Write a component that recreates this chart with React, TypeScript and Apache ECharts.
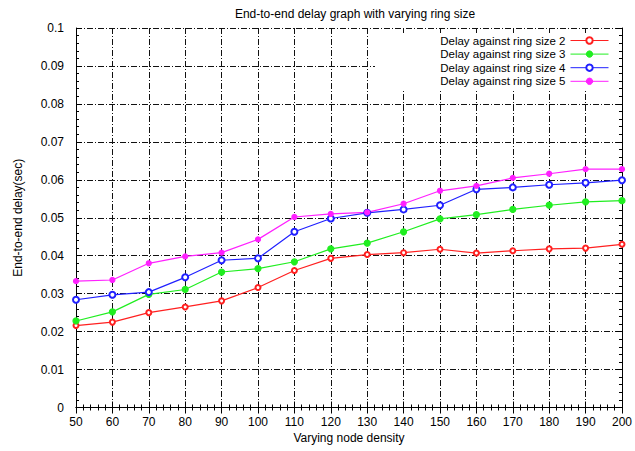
import React, { useEffect, useRef } from "react";
import * as echarts from "echarts";

const nodeDensity = [50, 60, 70, 80, 90, 100, 110, 120, 130, 140, 150, 160, 170, 180, 190, 200];
const ringSize2 = [0.0216, 0.0225, 0.025, 0.0265, 0.0281, 0.0316, 0.0361, 0.0393, 0.0403, 0.0408, 0.0417, 0.0407, 0.0413, 0.0418, 0.042, 0.043];
const ringSize3 = [0.0228, 0.0252, 0.0298, 0.0311, 0.0357, 0.0366, 0.0384, 0.0418, 0.0433, 0.0463, 0.0497, 0.0508, 0.0522, 0.0533, 0.0542, 0.0545];
const ringSize4 = [0.0284, 0.0297, 0.0304, 0.0343, 0.0388, 0.0393, 0.0463, 0.0498, 0.0513, 0.0522, 0.0533, 0.0575, 0.058, 0.0587, 0.0592, 0.0599];
const ringSize5 = [0.0333, 0.0336, 0.038, 0.0398, 0.0408, 0.0443, 0.0502, 0.051, 0.0514, 0.0537, 0.0571, 0.0584, 0.0605, 0.0616, 0.0628, 0.0628];
const seriesNames = [
  "Delay against ring size 2",
  "Delay against ring size 3",
  "Delay against ring size 4",
  "Delay against ring size 5",
];
const titleText = "End-to-end delay graph with varying ring size";
const xName = "Varying node density";
const yName = "End-to-end delay(sec)";

const FONT = "'Liberation Sans', Arial, sans-serif";

export default function App() {
  const ref = useRef<HTMLDivElement>(null);
  useEffect(() => {
    if (!ref.current) return;
    const chart = echarts.init(ref.current, null, { renderer: "svg" });
    const gridDash = [6, 2, 1, 2];
    const styles = [
      { color: "#ff2020", symbol: "emptyCircle", size: 5 },
      { color: "#20ee20", symbol: "circle", size: 6 },
      { color: "#2020ff", symbol: "emptyCircle", size: 6 },
      { color: "#ff20ff", symbol: "circle", size: 5 },
    ];
    const values = [ringSize2, ringSize3, ringSize4, ringSize5];
    const commonX = {
      type: "value" as const,
      min: 50,
      max: 200,
      interval: 10,
    };
    const commonY = {
      type: "value" as const,
      min: 0,
      max: 0.1,
      interval: 0.01,
    };
    chart.setOption({
      animation: false,
      backgroundColor: "#fff",
      textStyle: { fontFamily: FONT },
      title: {
        text: titleText,
        left: 350,
        top: 3,
        textAlign: "center",
        textStyle: { fontSize: 12, fontWeight: "normal", color: "#000", fontFamily: FONT },
      },
      grid: { left: 76, right: 10, top: 28, bottom: 43.5 },
      legend: {
        orient: "vertical",
        right: 26,
        top: 34,
        align: "right",
        itemWidth: 38,
        itemHeight: 8,
        itemGap: 0.6,
        padding: 0,
        textStyle: { fontSize: 11.5, lineHeight: 13, color: "#000", fontFamily: FONT },
        lineStyle: { width: 1 },
        itemStyle: { borderWidth: 1 },
        data: seriesNames,
        z: 5,
      },
      graphic: [
        {
          type: "rect",
          shape: { x: 375, y: 33, width: 244, height: 56 },
          style: { fill: "#fff" },
          z: 1,
          silent: true,
        },
      ],
      xAxis: [
        {
          ...commonX,
          position: "bottom",
          name: xName,
          nameLocation: "middle",
          nameGap: 24,
          nameTextStyle: { fontSize: 12, color: "#000", fontFamily: FONT },
          axisLine: { show: true, lineStyle: { color: "#000", width: 1 } },
          axisTick: { show: true, inside: true, length: 6, lineStyle: { color: "#000" } },
          minorTick: { show: true, splitNumber: 5, length: 3, lineStyle: { color: "#000" } },
          axisLabel: { fontSize: 12, color: "#000", margin: 8, fontFamily: FONT },
          splitLine: { show: true, lineStyle: { color: "#111", width: 1, type: gridDash } },
        },
        {
          ...commonX,
          position: "top",
          axisLine: { show: true, lineStyle: { color: "#000", width: 1 } },
          axisTick: { show: true, inside: true, length: 6, lineStyle: { color: "#000" } },
          minorTick: { show: true, splitNumber: 5, length: 3, lineStyle: { color: "#000" } },
          axisLabel: { show: false },
          splitLine: { show: false },
        },
      ],
      yAxis: [
        {
          ...commonY,
          position: "left",
          name: yName,
          nameLocation: "middle",
          nameGap: 52,
          nameTextStyle: { fontSize: 12, color: "#000", fontFamily: FONT },
          axisLine: { show: true, lineStyle: { color: "#000", width: 1 } },
          axisTick: { show: true, inside: true, length: 6, lineStyle: { color: "#000" } },
          minorTick: { show: true, splitNumber: 5, length: 3, lineStyle: { color: "#000" } },
          axisLabel: {
            fontSize: 12,
            color: "#000",
            margin: 12,
            fontFamily: FONT,
            formatter: (v: number) => String(+v.toFixed(2)),
          },
          splitLine: { show: true, lineStyle: { color: "#111", width: 1, type: gridDash } },
        },
        {
          ...commonY,
          position: "right",
          axisLine: { show: true, lineStyle: { color: "#000", width: 1 } },
          axisTick: { show: true, inside: true, length: 6, lineStyle: { color: "#000" } },
          minorTick: { show: true, splitNumber: 5, length: 3, lineStyle: { color: "#000" } },
          axisLabel: { show: false },
          splitLine: { show: false },
        },
      ],
      series: seriesNames.map((name, i) => ({
        name,
        type: "line",
        xAxisIndex: 0,
        yAxisIndex: 0,
        symbol: styles[i].symbol,
        symbolSize: styles[i].size,
        showAllSymbol: true,
        z: 3,
        lineStyle: { color: styles[i].color, width: 1.2 },
        itemStyle: { color: styles[i].color, borderColor: styles[i].color, borderWidth: 1.2 },
        data: nodeDensity.map((x, j) => [x, values[i][j]]),
      })),
    });
    return () => chart.dispose();
  }, []);
  return (
    <div
      ref={ref}
      style={{ position: "fixed", left: 0, top: 0, width: 635, height: 451 }}
    />
  );
}
